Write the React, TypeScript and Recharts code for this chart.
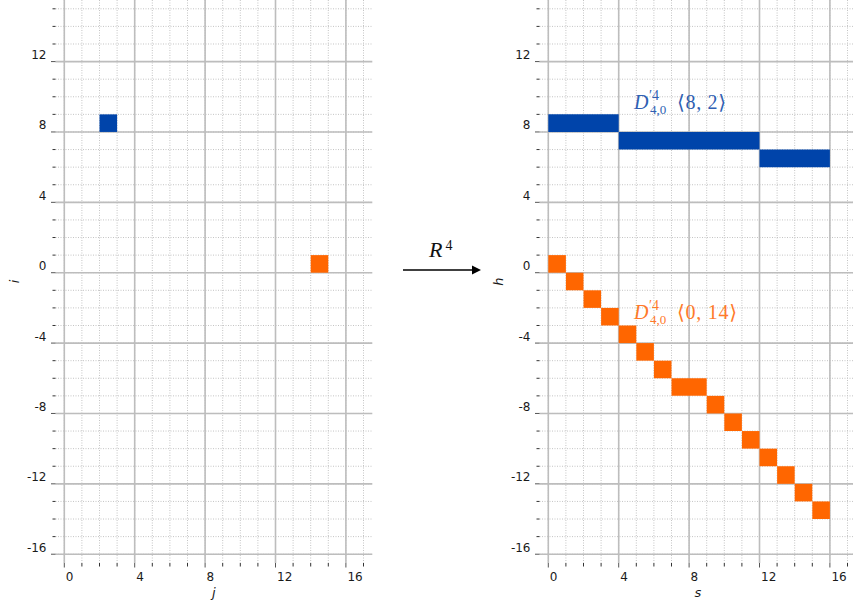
import { ScatterChart, Scatter, XAxis, YAxis, CartesianGrid, ReferenceArea } from 'recharts'

// grid / tick values
const colTicks = [0, 1, 2, 3, 4, 5, 6, 7, 8, 9, 10, 11, 12, 13, 14, 15, 16, 17]
const rowTicks = [-16, -15, -14, -13, -12, -11, -10, -9, -8, -7, -6, -5, -4, -3, -2, -1, 0, 1, 2, 3, 4, 5, 6, 7, 8, 9, 10, 11, 12, 13, 14, 15]
const majorCols = [0, 4, 8, 12, 16]
const majorRows = [-16, -12, -8, -4, 0, 4, 8, 12]

interface Cell {
  from: number
  to: number
  row: number
}

// left panel (j, i)
const inputBlue: Cell[] = [{ from: 2, to: 3, row: 8 }]
const inputOrange: Cell[] = [{ from: 14, to: 15, row: 0 }]

// right panel (s, h)
const outputBlue: Cell[] = [
  { from: 0, to: 4, row: 8 },
  { from: 4, to: 12, row: 7 },
  { from: 12, to: 16, row: 6 },
]
const outputOrange: Cell[] = [
  { from: 0, to: 1, row: 0 },
  { from: 1, to: 2, row: -1 },
  { from: 2, to: 3, row: -2 },
  { from: 3, to: 4, row: -3 },
  { from: 4, to: 5, row: -4 },
  { from: 5, to: 6, row: -5 },
  { from: 6, to: 7, row: -6 },
  { from: 7, to: 9, row: -7 },
  { from: 9, to: 10, row: -8 },
  { from: 10, to: 11, row: -9 },
  { from: 11, to: 12, row: -10 },
  { from: 12, to: 13, row: -11 },
  { from: 13, to: 14, row: -12 },
  { from: 14, to: 15, row: -13 },
  { from: 15, to: 16, row: -14 },
]

const BLUE = '#0044aa'
const ORANGE = '#ff6600'
const SANS = 'DejaVu Sans, sans-serif'
const SERIF = 'Liberation Serif, DejaVu Serif, serif'
const PLOT_W = 316.8
const X_DOMAIN: [number, number] = [-0.5, 17.5]
const Y_DOMAIN: [number, number] = [-16.5, 15.5]

function XTick(props: any) {
  const { x, y, payload } = props
  const v = payload.value
  const major = v % 4 === 0
  return (
    <g>
      <line x1={x} x2={x} y1={y} y2={y + (major ? 4.5 : 3.5)} stroke={major ? '#555' : '#333'} strokeWidth={1} />
      {major && (
        <text x={x + 1.5} y={y + 18} textAnchor="start" fontSize={12} fontFamily={SANS} fill="#1a1a1a">
          {v}
        </text>
      )}
    </g>
  )
}

function YTick(props: any) {
  const { x, y, payload } = props
  const v = payload.value
  const major = v % 4 === 0
  return (
    <g>
      <line x1={x - (major ? 4.5 : 3)} x2={x} y1={y} y2={y} stroke={major ? '#555' : '#333'} strokeWidth={1} />
      {major && (
        <text x={x - 9} y={y - 2.5} textAnchor="end" fontSize={12} fontFamily={SANS} fill="#1a1a1a">
          {v}
        </text>
      )}
    </g>
  )
}

function Panel({ left, plotLeft, xName, yName, blue, orange }: {
  left: number
  plotLeft: number
  xName: string
  yName: string
  blue: Cell[]
  orange: Cell[]
}) {
  const anchors = [...blue, ...orange].map((c) => ({ x: c.from, y: c.row }))
  return (
    <div style={{ position: 'absolute', left, top: 0 }}>
      <ScatterChart
        width={380}
        height={606}
        margin={{ top: 0, right: 380 - plotLeft - PLOT_W, bottom: 0, left: 0 }}
      >
        {/* minor dotted grid at every tick, solid major grid every 4 */}
        <CartesianGrid syncWithTicks stroke="#c4c4c4" strokeDasharray="1 1.5" strokeWidth={1} />
        <CartesianGrid
          syncWithTicks
          verticalValues={majorCols}
          horizontalValues={majorRows}
          stroke="#bdbdbd"
          strokeWidth={1.6}
        />
        <XAxis
          type="number"
          dataKey="x"
          domain={X_DOMAIN}
          ticks={colTicks}
          interval={0}
          allowDataOverflow
          axisLine={false}
          tickLine={false}
          tickSize={0}
          tickMargin={0}
          height={43}
          tick={(p: any) => <XTick {...p} />}
          label={{
            content: (p: any) => {
              const vb = p.viewBox
              return (
                <text x={vb.x + vb.width / 2} y={vb.y + 33.5} textAnchor="middle" fontSize={13} fontStyle="italic" fontFamily={SANS} fill="#1a1a1a">
                  {xName}
                </text>
              )
            },
          }}
        />
        <YAxis
          type="number"
          dataKey="y"
          domain={Y_DOMAIN}
          ticks={rowTicks}
          interval={0}
          allowDataOverflow
          axisLine={false}
          tickLine={false}
          tickSize={0}
          tickMargin={0}
          width={plotLeft}
          tick={(p: any) => <YTick {...p} />}
          label={{
            content: (p: any) => {
              const vb = p.viewBox
              const lx = vb.x + vb.width - 37
              const ly = vb.y + vb.height / 2
              return (
                <text x={lx} y={ly} transform={`rotate(-90, ${lx}, ${ly})`} textAnchor="middle" fontSize={13} fontStyle="italic" fontFamily={SANS} fill="#1a1a1a">
                  {yName}
                </text>
              )
            },
          }}
        />
        <Scatter data={anchors} isAnimationActive={false} shape={() => <g />} />
        {blue.map((c, k) => (
          <ReferenceArea key={`b-${k}`} x1={c.from} x2={c.to} y1={c.row} y2={c.row + 1} fill={BLUE} fillOpacity={1} stroke="none" />
        ))}
        {orange.map((c, k) => (
          <ReferenceArea key={`o-${k}`} x1={c.from} x2={c.to} y1={c.row} y2={c.row + 1} fill={ORANGE} fillOpacity={1} stroke="none" />
        ))}
      </ScatterChart>
    </div>
  )
}

function MathLabel({ x, y, color, args, width }: { x: number; y: number; color: string; args: string; width: number }) {
  return (
    <g fill={color} fontFamily={SERIF}>
      <text x={x} y={y} fontSize={20} fontStyle="italic">D</text>
      <text x={x + 15} y={y - 9} fontSize={14}>′4</text>
      <text x={x + 16} y={y + 5} fontSize={13}>4,0</text>
      <text x={x + 43} y={y} fontSize={20} textLength={width} lengthAdjust="spacing">{args}</text>
    </g>
  )
}

export default function App() {
  return (
    <div style={{ position: 'absolute', left: 0, top: 0, width: 853, height: 606, overflow: 'hidden', background: '#fff' }}>
      <Panel left={0} plotLeft={55.5} xName="j" yName="i" blue={inputBlue} orange={inputOrange} />
      <Panel left={480} plotLeft={59.5} xName="s" yName="h" blue={outputBlue} orange={outputOrange} />
      <svg width={853} height={606} style={{ position: 'absolute', left: 0, top: 0, pointerEvents: 'none' }}>
        <text x={429} y={257} fontSize={22} fontStyle="italic" fontFamily={SERIF} fill="#111">R</text>
        <text x={445.5} y={250} fontSize={14} fontFamily={SERIF} fill="#111">4</text>
        <line x1={403} y1={270} x2={474} y2={270} stroke="#000" strokeWidth={1.5} />
        <polygon points="472,265.5 481,270 472,274.5" fill="#000" />
        <MathLabel x={634} y={109} color="#2f5fb3" args="⟨8, 2⟩" width={49} />
        <MathLabel x={634} y={319} color="#ff7a2a" args="⟨0, 14⟩" width={60} />
      </svg>
    </div>
  )
}
